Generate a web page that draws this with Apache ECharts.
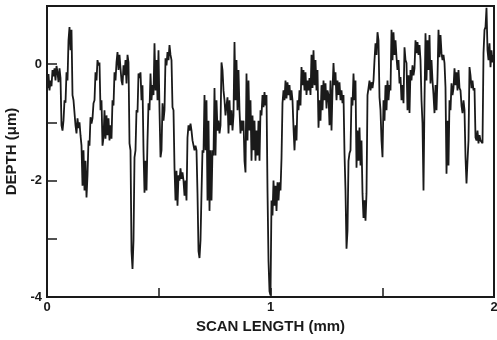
<!DOCTYPE html>
<html>
<head>
<meta charset="utf-8">
<script src="https://cdn.jsdelivr.net/npm/echarts@6/dist/echarts.min.js"></script>
<style>
  html, body { margin: 0; padding: 0; background: #fff; }
  #chart { width: 497px; height: 340px; }
</style>
</head>
<body>
<div id="chart"></div>
<script>
// Surface profile: depth readings taken at a uniform step along a 2 mm scan.
const scanLengthMm = 2;
const depthUm = [
  -0.19, -0.41, -0.17, -0.45, -0.28, -0.38, -0.10, -0.21, -0.07, -0.28,
  -0.03, -0.14, -0.31, -0.07, -0.24, -1.05, -1.14, -0.97, -0.62, -0.66,
  -0.14, -0.28, 0.41, 0.64, 0.24, 0.59, -0.53, -0.62, -0.59, -1.05,
  -1.19, -0.93, -1.10, -1.00, -1.22, -1.40, -2.09, -1.48, -2.17, -1.66,
  -2.29, -1.91, -1.31, -1.40, -0.91, -1.02, -0.93, -0.67, -0.62, -0.14,
  -0.28, 0.07, -0.02, 0.03, -0.79, -0.62, -1.40, -1.26, -0.79, -1.28,
  -0.88, -1.22, -0.93, -1.31, -1.05, -1.28, -0.62, -0.71, -0.14, -0.28,
  0.03, 0.21, -0.10, 0.16, -0.07, -0.28, -0.36, -0.02, -0.19, 0.07,
  -0.33, 0.16, 0.03, -1.36, -1.48, -3.21, -3.52, -3.03, -1.60, -1.48,
  -0.79, -0.83, -0.16, -0.24, -0.14, -0.62, -0.36, -1.48, -2.21, -1.66,
  -2.17, -1.31, -0.67, -0.79, -0.16, -0.62, -0.36, -0.53, 0.36, -0.45,
  0.07, -0.62, 0.24, -0.79, -1.60, -1.48, -0.67, -0.97, -0.79, 0.10,
  -0.02, 0.21, 0.07, 0.33, 0.16, 0.07, -0.74, -0.79, -1.78, -2.34,
  -1.83, -2.43, -1.91, -2.00, -1.79, -1.97, -1.86, -2.00, -2.26, -2.00,
  -2.34, -1.26, -1.05, -1.14, -1.02, -1.14, -1.31, -1.28, -1.48, -1.40,
  -1.48, -2.22, -3.21, -3.33, -3.03, -2.22, -1.48, -1.52, -0.53, -1.48,
  -0.62, -2.34, -0.97, -2.52, -1.48, -2.34, -1.48, -1.57, -0.41, -1.57,
  -0.62, -1.14, -0.97, -1.19, -1.05, 0.03, -0.10, -0.45, -0.62, -0.88,
  -0.71, -0.57, -1.19, -0.62, -1.05, -0.79, -1.14, -0.88, 0.38, -0.62,
  0.07, -0.79, -0.10, -0.79, -1.19, -0.97, -1.14, -0.97, -1.66, -1.86,
  -0.16, -1.31, -0.28, -1.14, -0.62, -1.66, -0.88, -1.48, -0.97, -1.66,
  -1.14, -1.57, -0.97, -1.66, -0.79, -0.88, -0.53, -0.74, -0.48, -0.71,
  -0.53, -2.17, -3.38, -3.90, -3.97, -2.34, -2.60, -2.00, -2.43, -2.09,
  -2.52, -2.03, -2.34, -2.03, -2.17, -1.62, -0.67, -0.45, -0.62, -0.28,
  -0.59, -0.31, -0.53, -0.36, -0.62, -0.45, -0.62, -1.09, -1.48, -1.05,
  -1.31, -0.62, -0.79, -0.45, -0.71, -0.05, -0.36, -0.10, -0.45, -0.14,
  -0.53, -0.28, -0.45, -0.24, -0.53, 0.16, -0.41, 0.24, -0.36, 0.07,
  -0.45, -0.10, -1.09, -0.62, -0.97, -0.36, -0.79, -0.28, -0.62, -0.33,
  -0.76, -0.45, -0.53, -1.05, -0.28, -1.14, -0.45, 0.02, -0.36, -0.14,
  -0.62, -0.28, -0.53, -0.31, -0.62, -0.45, -0.67, -0.53, -1.53, -2.17,
  -3.17, -2.86, -1.66, -1.53, -1.48, -0.57, -0.71, -0.16, -0.62, -0.28,
  -1.78, -1.14, -1.66, -1.09, -1.74, -1.31, -2.22, -2.64, -2.34, -2.69,
  -2.22, -0.53, -0.41, -0.28, -0.45, -0.31, -0.41, -0.28, 0.07, 0.36,
  0.16, 0.55, 0.41, -0.57, -0.79, -1.31, -1.60, -0.62, -0.97, -0.36,
  -0.79, -0.28, -0.62, -0.36, -0.45, 0.59, 0.07, 0.55, 0.16, 0.41,
  0.12, -0.10, 0.07, -0.33, -0.22, -0.62, -0.36, -0.67, 0.29, 0.07,
  0.02, -0.79, -0.19, -0.84, -0.10, -0.28, -0.02, -0.19, -0.07, 0.41,
  0.19, 0.38, 0.16, 0.33, 0.07, -0.62, -1.02, -2.17, -0.62, 0.53,
  -0.28, 0.41, -0.10, 0.50, -0.33, 0.07, -0.28, -0.53, -0.84, -0.36,
  -0.79, -0.22, 0.59, 0.12, 0.50, 0.19, 0.07, 0.16, 0.02, -0.40,
  -1.88, -0.97, -1.74, -0.62, -0.79, -0.33, -0.53, -0.41, -0.07, -0.36,
  -0.14, -0.45, -0.10, -0.41, -0.45, -0.71, -0.84, -0.62, -0.79, -1.60,
  -2.05, -1.66, -1.31, -0.05, -0.19, -0.41, -0.28, -0.45, -0.41, -1.26,
  -1.31, -1.14, -1.36, -1.22, -1.31, -1.28, -1.36, 0.19, 0.59, 0.64,
  0.97, 0.24, 0.07, 0.36, -0.05, 0.24, 0.03, 0.16
];
const xTickLabels = ['0', '1', '2'];
const yTickLabels = ['0', '-2', '-4'];

const step = scanLengthMm / (depthUm.length - 1);
const profile = depthUm.map((d, i) => [i * step, d]);

const ink = '#1a1a1a';
const font = '"Liberation Sans", Arial, Helvetica, sans-serif';

const chart = echarts.init(document.getElementById('chart'), null, { renderer: 'canvas' });
chart.setOption({
  animation: false,
  backgroundColor: '#ffffff',
  grid: {
    left: 47, right: 3, top: 6, bottom: 43,
    containLabel: false, outerBoundsMode: 'none',
    show: true, borderColor: ink, borderWidth: 2, backgroundColor: 'transparent'
  },
  xAxis: {
    type: 'value', min: 0, max: 2, interval: 0.5,
    name: 'SCAN LENGTH (mm)', nameLocation: 'middle', nameGap: 20,
    nameTextStyle: { color: ink, fontFamily: font, fontWeight: 'bold', fontSize: 15 },
    axisLine: { show: true, onZero: false, lineStyle: { color: ink, width: 2 } },
    axisTick: { show: true, inside: true, length: 9, lineStyle: { color: ink, width: 1.5 } },
    axisLabel: {
      color: ink, fontFamily: font, fontWeight: 'bold', fontSize: 13, margin: 4,
      formatter: v => xTickLabels.includes(String(v)) ? String(v) : ''
    },
    splitLine: { show: false }
  },
  yAxis: {
    type: 'value', min: -4, max: 1, interval: 1,
    name: 'DEPTH (\u03bcm)', nameLocation: 'middle', nameGap: 28, nameRotate: 90,
    nameTextStyle: { color: ink, fontFamily: font, fontWeight: 'bold', fontSize: 15 },
    axisLine: { show: true, onZero: false, lineStyle: { color: ink, width: 2 } },
    axisTick: { show: true, inside: true, length: 10, lineStyle: { color: ink, width: 1.5 } },
    axisLabel: {
      color: ink, fontFamily: font, fontWeight: 'bold', fontSize: 13, margin: 5,
      formatter: v => yTickLabels.includes(String(v)) ? String(v) : ''
    },
    splitLine: { show: false }
  },
  series: [{
    type: 'line',
    data: profile,
    step: 'middle',
    showSymbol: false,
    lineStyle: { color: ink, width: 1.8 },
    clip: true
  }]
});
</script>
</body>
</html>
